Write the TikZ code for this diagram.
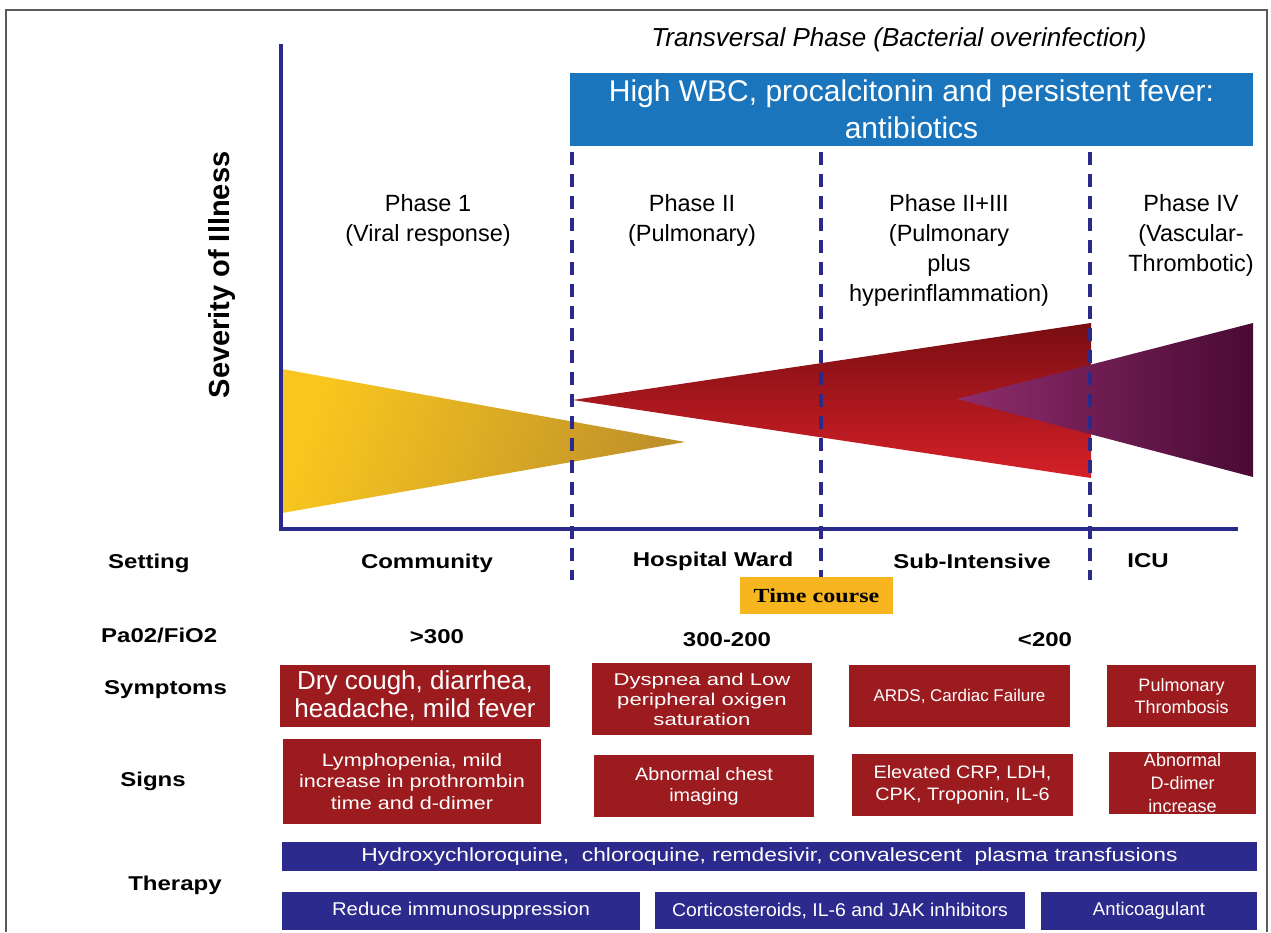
\documentclass[tikz,border=0pt]{standalone}
\usepackage{fontspec}
\setmainfont{Liberation Sans}
\newfontfamily\fA{Liberation Sans}
\newfontfamily\fG[FakeStretch=1.05]{Liberation Sans}
\newfontfamily\fB[FakeStretch=1.1]{Liberation Sans}
\newfontfamily\fF[FakeStretch=1.15]{Liberation Sans}
\newfontfamily\fC[FakeStretch=1.2]{Liberation Sans}
\newfontfamily\fD[FakeStretch=1.3]{Liberation Sans}
\newfontfamily\fT[FakeStretch=1.2]{Liberation Serif}
\newcommand\fz[2]{\fontsize{#1}{#2}\selectfont}
\definecolor{axisblue}{RGB}{42,42,140}
\definecolor{bandblue}{RGB}{27,117,188}
\definecolor{boxred}{RGB}{155,27,31}
\definecolor{thernavy}{RGB}{45,42,142}
\definecolor{tcyellow}{RGB}{247,181,31}
\definecolor{framegray}{RGB}{90,90,90}
\definecolor{goldA}{RGB}{248,198,30}
\definecolor{goldB}{RGB}{192,145,42}
\definecolor{redA}{RGB}{120,14,18}
\definecolor{redB}{RGB}{214,32,40}
\definecolor{purA}{RGB}{142,45,108}
\definecolor{purB}{RGB}{74,10,52}
\tikzset{
  redbox/.style={fill=boxred, text=white, inner sep=0pt, align=center},
  navybox/.style={fill=thernavy, text=white, inner sep=0pt, align=center},
  lbl/.style={inner sep=0pt, font=\fC\bfseries\fz{20}{24}},
  phase/.style={inner sep=0pt, align=center, font=\fA\fz{23.5}{30}},
  axisline/.style={draw=axisblue, line width=4pt},
  dashline/.style={draw=axisblue, line width=3.5pt, dash pattern=on 13pt off 9pt},
}
\begin{document}
\begin{tikzpicture}[x=1pt, y=-1pt]
\path[use as bounding box, fill=white] (0,0) rectangle (1271,932);
% frame
\draw[framegray, line width=1.5pt] (6,932) -- (6,10) -- (1267,10) -- (1267,932);
% triangles
\shade[top color=goldA, bottom color=goldB, shading angle=70] (282,369) -- (282,513) -- (685,442) -- cycle;
\shade[top color=redA, bottom color=redB] (573,400) -- (1091,323) -- (1091,478) -- cycle;
\shade[left color=purA, right color=purB] (957,399) -- (1253,323) -- (1253,477) -- cycle;
% axes
\coordinate (ytop) at (281,44);
\coordinate (origin) at (281,529);
\coordinate (xend) at (1238,529);
\draw[axisline] (ytop) -- (origin) -- (xend);
% dashed phase separators
\coordinate (d1t) at (572,152); \coordinate (d1b) at (572,580);
\coordinate (d2t) at (821,152); \coordinate (d2b) at (821,578);
\coordinate (d3t) at (1090,152); \coordinate (d3b) at (1090,580);
\draw[dashline] (d1t) -- (d1b);
\draw[dashline] (d2t) -- (d2b);
\draw[dashline] (d3t) -- (d3b);
% top texts
\node[inner sep=0pt, font=\fA\itshape\fz{26}{28}] (trans) at (899,40) {Transversal Phase (Bacterial overinfection)};
\node[fill=bandblue, text=white, inner sep=0pt, minimum width=683, minimum height=73, align=center, font=\fA\fz{30}{37}] (wbc) at (911.5,109.5) {High WBC, procalcitonin and persistent fever:\\antibiotics};
\node[inner sep=0pt, rotate=90, font=\fA\bfseries\fz{29}{29}] (sev) at (222,275) {Severity of Illness};
% phases
\node[phase] (ph1) at (428,220) {Phase 1\\(Viral response)};
\node[phase] (ph2) at (692,220) {Phase II\\(Pulmonary)};
\node[phase] (ph3) at (949,250) {Phase II+III\\(Pulmonary\\plus\\hyperinflammation)};
\node[phase] (ph4) at (1191,235) {Phase IV\\(Vascular-\\Thrombotic)};
% row labels
\node[lbl, anchor=west] (setting) at (108,563) {Setting};
\node[lbl, anchor=west] (pao) at (101,635) {Pa02/FiO2};
\node[lbl, anchor=west] (sympt) at (104,690) {Symptoms};
\node[lbl] (signs) at (153,781) {Signs};
\node[lbl] (therapy) at (175,885) {Therapy};
% settings
\node[lbl] (comm) at (427,563) {Community};
\node[lbl] (ward) at (713,561) {Hospital Ward};
\node[lbl] (subint) at (972,561) {Sub-Intensive};
\node[lbl] (icu) at (1148,561) {ICU};
\node[fill=tcyellow, inner sep=0pt, minimum width=153, minimum height=37, font=\fT\bfseries\fz{20}{24}] (tc) at (816.5,595.5) {Time course};
% PaO2
\node[lbl] (p1) at (437,637) {>300};
\node[lbl] (p2) at (727,640) {300-200};
\node[lbl] (p3) at (1045,640) {<200};
% symptoms
\node[redbox, minimum width=270, minimum height=62, font=\fA\fz{26}{28}] (sym1) at (415,696) {Dry cough, diarrhea,\\headache, mild fever};
\node[redbox, minimum width=220, minimum height=72, font=\fD\fz{17}{20}] (sym2) at (702,699) {Dyspnea and Low\\peripheral oxigen\\saturation};
\node[redbox, minimum width=221, minimum height=62, font=\fA\fz{17}{20}] (sym3) at (959.5,696) {ARDS, Cardiac Failure};
\node[redbox, minimum width=149, minimum height=62, font=\fA\fz{18}{22}] (sym4) at (1181.5,696) {Pulmonary\\Thrombosis};
% signs
\node[redbox, minimum width=258, minimum height=85, font=\fC\fz{18}{21.5}] (sig1) at (412,781.5) {Lymphopenia, mild\\increase in prothrombin\\time and d-dimer};
\node[redbox, minimum width=220, minimum height=62, font=\fB\fz{18}{21}] (sig2) at (704,786) {Abnormal chest\\imaging};
\node[redbox, minimum width=221, minimum height=62, font=\fB\fz{18}{22}] (sig3) at (962.5,785) {Elevated CRP, LDH,\\CPK, Troponin, IL-6};
\node[redbox, minimum width=147, minimum height=62, font=\fA\fz{18}{23}] (sig4) at (1182.5,783) {Abnormal\\D-dimer\\increase};
% therapy
\node[navybox, minimum width=975, minimum height=29, font=\fC\fz{19}{20}] (th1) at (769.5,856.5) {Hydroxychloroquine,\ \ chloroquine, remdesivir, convalescent\ \ plasma transfusions};
\node[navybox, minimum width=358, minimum height=38, font=\fB\fz{18.5}{20}] (th2) at (461,910.5) {Reduce immunosuppression};
\node[navybox, minimum width=370, minimum height=37, font=\fG\fz{18.5}{20}] (th3) at (840,910.5) {Corticosteroids, IL-6 and JAK inhibitors};
\node[navybox, minimum width=216, minimum height=38, font=\fA\fz{18.5}{20}] (th4) at (1149,910.5) {Anticoagulant};
\end{tikzpicture}
\end{document}
